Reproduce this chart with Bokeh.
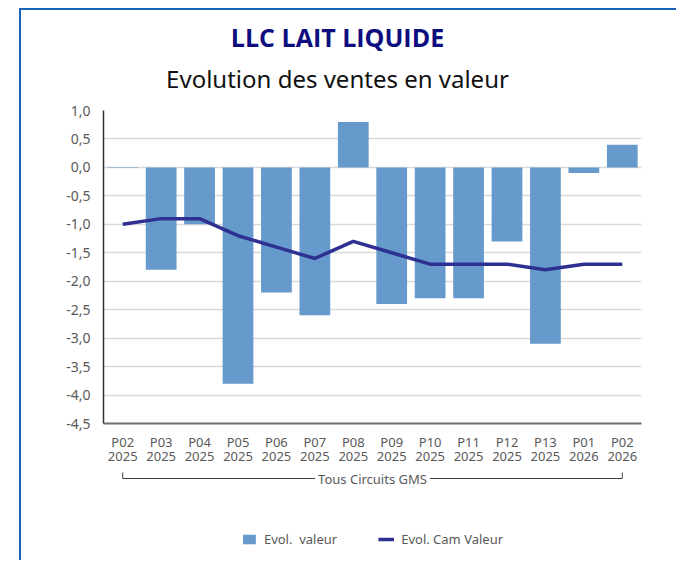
from bokeh.plotting import figure
from bokeh.layouts import column
from bokeh.models import (FactorRange, Range1d, FixedTicker, Legend, LegendItem,
                          ColumnDataSource)
from bokeh.core.properties import value
from bokeh.embed import file_html
from bokeh.resources import INLINE

# ---- data ----
periods = ["P02", "P03", "P04", "P05", "P06", "P07", "P08", "P09", "P10", "P11", "P12", "P13", "P01", "P02"]
years = ["2025"] * 12 + ["2026"] * 2
categories = [f"{p}\n{y}" for p, y in zip(periods, years)]
evol_valeur = [-0.01, -1.8, -1.0, -3.8, -2.2, -2.6, 0.8, -2.4, -2.3, -2.3, -1.3, -3.1, -0.1, 0.4]
evol_cam_valeur = [-1.0, -0.9, -0.9, -1.2, -1.4, -1.6, -1.3, -1.5, -1.7, -1.7, -1.7, -1.8, -1.7, -1.7]
y_ticks = [1.0, 0.5, 0.0, -0.5, -1.0, -1.5, -2.0, -2.5, -3.0, -3.5, -4.0, -4.5]
y_tick_labels = ["1,0", "0,5", "0,0", "-0,5", "-1,0", "-1,5", "-2,0", "-2,5", "-3,0", "-3,5", "-4,0", "-4,5"]
group_label = "Tous Circuits GMS"
title_text = "LLC LAIT LIQUIDE"
subtitle_text = "Evolution des ventes en valeur"
series_names = ["Evol.  valeur", "Evol. Cam Valeur"]

FONT = "Noto Sans"
GREY = "#595959"
BAR = "#6699CC"
LINE = "#2E3192"
FRAME_BLUE = "#1A62B8"
W = 655

src = ColumnDataSource(dict(cat=categories, bar=evol_valeur, cam=evol_cam_valeur))
xr = FactorRange(*categories, range_padding=0, factor_padding=0)

# ---- title strip (x in page pixels of the frame: 103..641) ----
t = figure(width=W, height=90, x_range=Range1d(103, 641), y_range=Range1d(90, 0),
           output_backend="svg", toolbar_location=None,
           x_axis_location=None, y_axis_location=None,
           min_border_left=82, min_border_right=35, min_border_top=0, min_border_bottom=0,
           outline_line_color=None, background_fill_color="white", border_fill_color="white")
t.grid.visible = False
t.text(x=[337], y=[26], text=[title_text], text_align="center", text_baseline="middle",
       text_font=value("Open Sans"), text_font_style="bold", text_font_size="25px",
       text_color="#0D0D80")
t.text(x=[337], y=[68], text=[subtitle_text], text_align="center", text_baseline="middle",
       text_font=value(FONT), text_font_size="24px", text_color="#111111")

# ---- main chart ----
p = figure(x_range=xr, y_range=Range1d(min(y_ticks), max(y_ticks)),
           width=W, height=369, output_backend="svg", toolbar_location=None,
           min_border_left=82, min_border_right=35, min_border_top=10, min_border_bottom=46,
           outline_line_color=None, background_fill_color="white", border_fill_color="white")

p.xgrid.visible = False
p.ygrid.ticker = FixedTicker(ticks=y_ticks)
p.ygrid.grid_line_color = "#D9D9D9"
p.ygrid.grid_line_width = 1.5

ya = p.yaxis[0]
ya.ticker = FixedTicker(ticks=y_ticks)
ya.major_label_overrides = {t_: l for t_, l in zip(y_ticks, y_tick_labels)}
ya.axis_line_color = "#333333"
ya.axis_line_width = 1.5
ya.major_tick_line_color = None
ya.minor_tick_line_color = None
ya.major_label_text_font = FONT
ya.major_label_text_font_size = "14px"
ya.major_label_text_color = GREY
ya.major_label_standoff = 7

xa = p.xaxis[0]
xa.axis_line_color = "#6E6E6E"
xa.axis_line_width = 2
xa.major_tick_line_color = None
xa.minor_tick_line_color = None
xa.major_label_text_font = FONT
xa.major_label_text_font_size = "13px"
xa.major_label_text_color = GREY
xa.major_label_standoff = 3
xa.major_label_text_line_height = 0.8

p.vbar(x="cat", top="bar", bottom=0, width=0.8, source=src, fill_color=BAR, line_color=None)
p.line(x="cat", y="cam", source=src, line_color=LINE, line_width=3.5)

# ---- lower strip: group bracket + legend ----
q = figure(x_range=xr, y_range=Range1d(91, 0),
           width=W, height=91, output_backend="svg", toolbar_location=None,
           min_border_left=82, min_border_right=35, min_border_top=0, min_border_bottom=0,
           x_axis_location=None, y_axis_location=None,
           outline_line_color=None, background_fill_color="white", border_fill_color="white")
q.grid.visible = False

by = 9
q.segment(x0=[categories[0]], y0=[by], x1=[categories[-1]], y1=[by], line_color="#404040", line_width=1)
q.segment(x0=[categories[0], categories[-1]], y0=[by, by], x1=[categories[0], categories[-1]], y1=[by - 6, by - 6],
          line_color="#404040", line_width=1)
q.text(x=[len(categories) / 2], y=[by], text=[group_label], text_align="center", text_baseline="middle",
       text_font=value(FONT), text_font_size="13px", text_color=GREY,
       background_fill_color="white", padding=3)

# legend proxies (hidden renderers carrying the series styles)
leg_bar = q.vbar(x="cat", top="bar", width=0.8, source=src, fill_color=BAR, line_color=None, visible=False)
leg_line = q.line(x="cat", y="cam", source=src, line_color=LINE, line_width=3.5, visible=False)
legend = Legend(items=[LegendItem(label=series_names[0], renderers=[leg_bar]),
                       LegendItem(label=series_names[1], renderers=[leg_line])],
                orientation="horizontal", location="bottom_center",
                border_line_color=None, background_fill_alpha=0, inactive_fill_alpha=0,
                label_text_font=FONT, label_text_font_size="13px", label_text_color=GREY,
                glyph_width=16, glyph_height=12, spacing=41, label_standoff=7,
                padding=5, margin=12)
q.add_layout(legend)

layout = column(t, p, q, spacing=0,
                styles={"border-left": f"2px solid {FRAME_BLUE}", "border-top": f"2px solid {FRAME_BLUE}",
                        "margin": "8px 0px 0px 19px"})

open("out.html", "w").write(file_html(layout, INLINE))
